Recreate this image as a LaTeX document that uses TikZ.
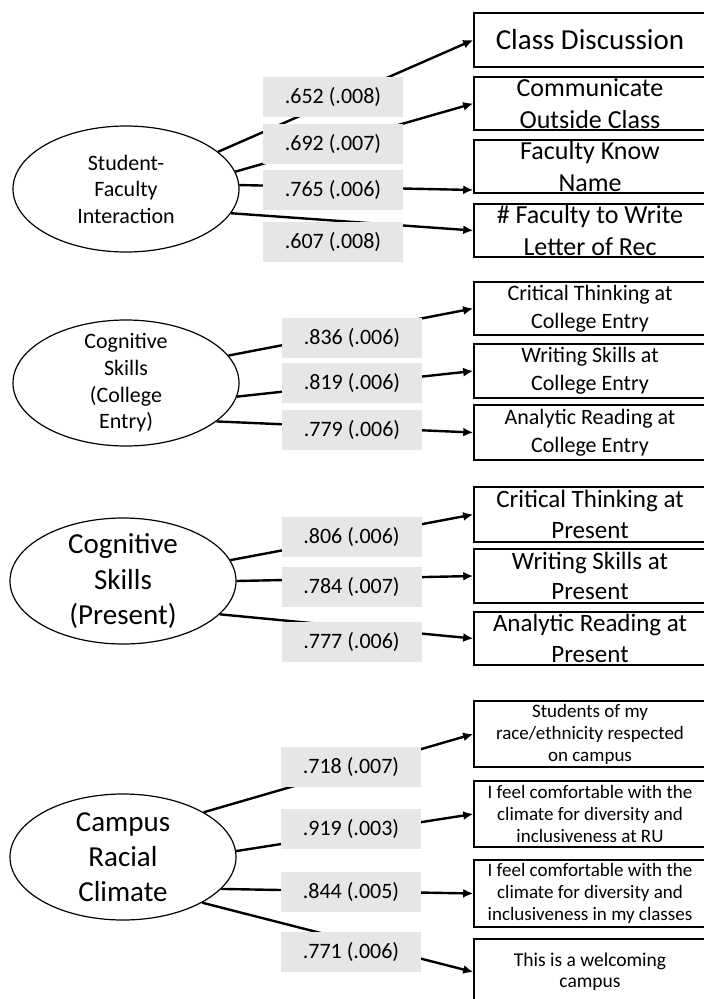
\documentclass[tikz,border=0pt]{standalone}
\usepackage{fontspec}
\setmainfont{Carlito}
\usepackage{tikz}
\usetikzlibrary{arrows.meta}
\usetikzlibrary{shapes.geometric}
\definecolor{loadgray}{RGB}{231,230,230}

\begin{document}
\begin{tikzpicture}[x=1pt,y=-1pt]
			\tikzset{factor/.style = {shape=ellipse,draw,line width=1.2pt,minimum width=226pt,minimum height=126pt,inner sep=-20pt,align=center}}
			\tikzset{item/.style = {shape=rectangle,draw,line width=1.6pt,minimum width=232pt,minimum height=53pt,inner xsep=0pt,inner ysep=-15pt,align=center}}
			\tikzset{load/.style = {fill=loadgray,minimum width=140pt,minimum height=40pt,inner sep=0pt,font=\fontsize{22}{26}\selectfont}}
			\tikzset{edge/.style = {-{Latex[length=10pt,width=9pt]},line width=2.4pt}}
			\useasboundingbox (0,0) rectangle (704,999);
			% factors
			\node[factor, font=\fontsize{22}{26.5}\selectfont] (sfi) at (126,189) {Student-\\Faculty\\Interaction};
			\node[factor, font=\fontsize{22}{26.7}\selectfont] (cse) at (126,383) {Cognitive\\Skills\\(College\\Entry)};
			\node[factor, font=\fontsize{29}{35.5}\selectfont] (csp) at (123,581) {Cognitive\\Skills\\(Present)};
			\node[factor, font=\fontsize{29}{35}\selectfont] (crc) at (123,857) {Campus\\Racial\\Climate};
			% items
			\node[item, minimum height=54pt, font=\fontsize{29}{35}\selectfont] (cd) at (590,40) {Class Discussion};
			\node[item, font=\fontsize{26}{32}\selectfont] (coc) at (590,103.5) {Communicate\\Outside Class};
			\node[item, font=\fontsize{26}{32}\selectfont] (fkn) at (590,166.5) {Faculty Know\\Name};
			\node[item, font=\fontsize{26}{32}\selectfont] (fwl) at (590,230.5) {\# Faculty to Write\\Letter of Rec};
			\node[item, font=\fontsize{22}{28}\selectfont] (ctc) at (590,308.5) {Critical Thinking at\\College Entry};
			\node[item, minimum height=54pt, font=\fontsize{22}{28}\selectfont] (wsc) at (590,371) {Writing Skills at\\College Entry};
			\node[item, minimum height=55pt, font=\fontsize{22}{28}\selectfont] (arc) at (590,432.5) {Analytic Reading at\\College Entry};
			\node[item, minimum height=55pt, font=\fontsize{25}{30.5}\selectfont] (ctp) at (590,514.5) {Critical Thinking at\\Present};
			\node[item, minimum height=54pt, font=\fontsize{25}{30.5}\selectfont] (wsp) at (590,576) {Writing Skills at\\Present};
			\node[item, font=\fontsize{25}{30.5}\selectfont] (arp) at (590,638.5) {Analytic Reading at\\Present};
			\node[item, minimum height=66pt, font=\fontsize{19}{22}\selectfont] (rr) at (590,734) {Students of my\\race/ethnicity respected\\on campus};
			\node[item, minimum height=66pt, font=\fontsize{19}{22}\selectfont] (cru) at (590,814) {I feel comfortable with the\\climate for diversity and\\inclusiveness at RU};
			\node[item, minimum height=67pt, font=\fontsize{19}{22}\selectfont] (ccl) at (590,893.5) {I feel comfortable with the\\climate for diversity and\\inclusiveness in my classes};
			\node[item, minimum height=66pt, font=\fontsize{19.5}{21.5}\selectfont] (wc) at (590,972) {This is a welcoming\\campus};
			% edges
			\draw[edge] (sfi.22) -- (cd.west);
			\draw[edge] (sfi.9) -- (coc.west);
			\draw[edge] (sfi.2) -- ([yshift=-23.5pt]fkn.west);
			\draw[edge] (sfi.-13) -- (fwl.west);
			\draw[edge] (cse.15) -- (ctc.west);
			\draw[edge] (cse.-7) -- (wsc.west);
			\draw[edge] (cse.-23) -- (arc.west);
			\draw[edge] (csp.11) -- (ctp.west);
			\draw[edge] (csp.0) -- (wsp.west);
			\draw[edge] (csp.-19) -- (arp.west);
			\draw[edge] (crc.29) -- (rr.west);
			\draw[edge] (crc.3) -- (cru.west);
			\draw[edge] (crc.-18) -- (ccl.west);
			\draw[edge] (crc.-30) -- (wc.west);
			% loadings
			\node[load] (l1) at (333,97) {.652 (.008)};
			\node[load] (l2) at (333,144) {.692 (.007)};
			\node[load] (l3) at (333,190) {.765 (.006)};
			\node[load] (l4) at (333,242) {.607 (.008)};
			\node[load] (l5) at (352,338) {.836 (.006)};
			\node[load] (l6) at (352,383) {.819 (.006)};
			\node[load] (l7) at (352,430) {.779 (.006)};
			\node[load] (l8) at (351.5,537) {.806 (.006)};
			\node[load] (l9) at (351.5,587) {.784 (.007)};
			\node[load] (l10) at (351.5,642) {.777 (.006)};
			\node[load] (l11) at (351,767) {.718 (.007)};
			\node[load] (l12) at (351,829) {.919 (.003)};
			\node[load] (l13) at (351,892) {.844 (.005)};
			\node[load] (l14) at (351,952) {.771 (.006)};
		\end{tikzpicture}
\end{document}
